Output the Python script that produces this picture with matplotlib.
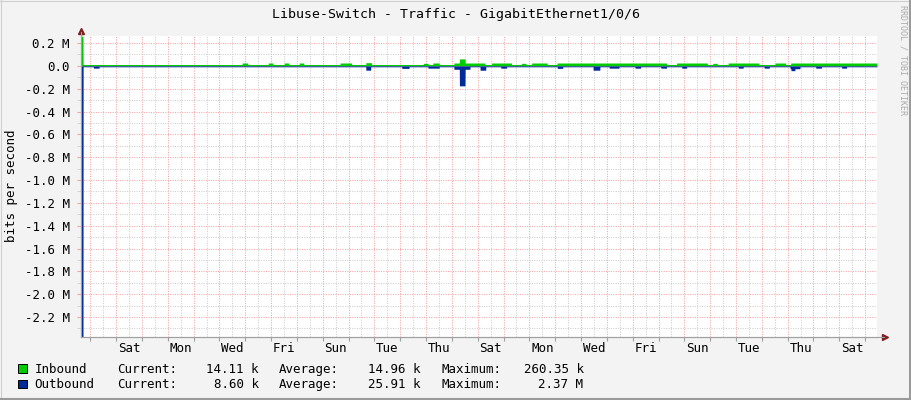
import matplotlib
matplotlib.use("Agg")
import matplotlib.pyplot as plt
from matplotlib.patches import Rectangle
from matplotlib.ticker import FixedLocator, NullFormatter
import numpy as np

plt.rcParams['font.family'] = ['DejaVu Sans Mono']

W, H = 911, 400

# time axis in days from the left edge of the graph
t_end = 30.82
first_midnight = 0.36
day_labels = ["Sat", "Mon", "Wed", "Fri", "Sun", "Tue", "Thu", "Sat",
              "Mon", "Wed", "Fri", "Sun", "Tue", "Thu", "Sat"]

# baselines (bits/s)
in_base = 12e3
out_base = 8e3

# inbound bumps: start day, end day, bits/s
in_start = [0.00, 6.24, 7.25, 7.87, 8.45, 10.03, 11.03, 13.25, 13.62, 14.44,
            14.65, 14.87, 15.06, 15.90, 17.06, 17.45, 18.43, 23.06, 24.46,
            25.06, 26.87, 27.48]
in_end = [0.08, 6.45, 7.43, 8.05, 8.63, 10.48, 11.25, 13.44, 13.87, 14.65,
          14.87, 15.06, 15.64, 16.67, 17.23, 18.05, 22.67, 24.25, 24.63,
          26.25, 27.28, 30.82]
in_val = [260e3, 25e3, 25e3, 25e3, 25e3, 25e3, 28e3, 22e3, 25e3, 25e3,
          61e3, 25e3, 25e3, 25e3, 22e3, 25e3, 25e3, 25e3, 22e3,
          25e3, 25e3, 25e3]

# outbound dips: start day, end day, bits/s
out_start = [0.00, 0.48, 11.03, 12.42, 13.43, 14.44, 14.65, 14.87, 15.45,
             16.25, 18.44, 19.83, 20.45, 21.45, 22.45, 23.26, 25.45, 26.45,
             27.45, 27.49, 28.45, 29.45]
out_end = [0.08, 0.70, 11.22, 12.70, 13.87, 14.65, 14.87, 15.06, 15.67,
           16.48, 18.65, 20.09, 20.83, 21.67, 22.67, 23.45, 25.64, 26.65,
           27.84, 27.64, 28.67, 29.64]
out_val = [2.37e6, 20e3, 38e3, 22e3, 20e3, 30e3, 175e3, 30e3, 38e3,
           20e3, 22e3, 38e3, 20e3, 20e3, 20e3, 20e3, 20e3, 20e3,
           25e3, 42e3, 20e3, 20e3]

legend_names = ["Inbound", "Outbound"]
cur_vals = ["14.11 k", "8.60 k"]
avg_vals = ["14.96 k", "25.91 k"]
max_vals = ["260.35 k", "2.37 M"]

title = "Libuse-Switch - Traffic - GigabitEthernet1/0/6"

c_in = "#00CC00"
c_out = "#002A97"
grid_major = "#F2A7A7"
grid_minor = "#CFCFCF"


def fx(x):
    return x / W


def fy(y):
    return 1 - y / H


t = np.linspace(0, t_end, 6000)
inbound = np.full_like(t, in_base)
for s, e, v in zip(in_start, in_end, in_val):
    inbound[(t >= s) & (t < e)] = v
outbound = np.full_like(t, out_base)
for s, e, v in zip(out_start, out_end, out_val):
    m = (t >= s) & (t < e)
    outbound[m] = np.maximum(outbound[m], v)

fig = plt.figure(figsize=(W / 100, H / 100), dpi=100)
fig.patch.set_facecolor("#F3F3F3")

left, right, top, bottom = 81, 877, 35.5, 337
ax = fig.add_axes([fx(left), fy(bottom), fx(right - left), (bottom - top) / H])
ax.set_facecolor("white")
ax.set_xlim(0, t_end)
ax.set_ylim(-2.375e6, 0.266e6)

# grid
for d in np.arange(first_midnight, t_end, 1.0):
    ax.axvline(d, color=grid_major, lw=0.75, dashes=(1, 1.3), zorder=1)
for d in np.arange(first_midnight + 0.5, t_end, 1.0):
    ax.axvline(d, color=grid_minor, lw=0.75, dashes=(1, 1.3), zorder=1)
yt_major = np.arange(-2.2e6, 0.25e6, 0.2e6)
yt_minor = np.arange(-2.3e6, 0.25e6, 0.2e6)
for y in yt_major:
    ax.axhline(y, color=grid_major, lw=0.75, dashes=(1, 1.3), zorder=1)
for y in yt_minor:
    ax.axhline(y, color=grid_minor, lw=0.75, dashes=(1, 1.3), zorder=1)

ax.fill_between(t, 0, inbound, color=c_in, lw=0, zorder=3)
ax.fill_between(t, 0, -outbound, color=c_out, lw=0, zorder=3)

# ticks
ax.yaxis.set_major_locator(FixedLocator(yt_major))
ylabels = []
for y in yt_major:
    v = y / 1e6
    if abs(v) < 1e-9:
        ylabels.append("0.0")
    else:
        ylabels.append("%.1f M" % v)
ax.set_yticklabels(ylabels, fontsize=9)
ax.yaxis.set_minor_locator(FixedLocator(yt_minor))
ax.tick_params(axis="y", which="major", length=3, color=grid_major, pad=5)
ax.tick_params(axis="y", which="minor", length=3, color=grid_minor)

ax.xaxis.set_major_locator(FixedLocator(np.arange(first_midnight, t_end, 1.0)))
ax.xaxis.set_major_formatter(NullFormatter())
ax.tick_params(axis="x", which="major", length=3, color="#A0A0A0")
for i, lab in enumerate(day_labels):
    xd = first_midnight + 1.5 + 2 * i
    ax.text(xd, -0.05, lab, transform=ax.get_xaxis_transform(),
            ha="center", va="baseline", fontsize=9)

for s in ["top", "right"]:
    ax.spines[s].set_visible(False)
ax.spines["bottom"].set_color("#A0A0A0")
ax.spines["left"].set_color("#A0A0A0")
ax.spines["bottom"].set_linewidth(0.8)
ax.spines["left"].set_linewidth(0.8)
ax.spines["bottom"].set_zorder(2)

# axis arrows
fig.add_artist(plt.Line2D([fx(81), fx(81)], [fy(bottom), fy(32)], color="#A0A0A0", lw=0.8, zorder=1))
fig.add_artist(plt.Line2D([fx(81), fx(884)], [fy(337), fy(337)], color="#A0A0A0", lw=0.8, zorder=1))
ax.plot([fx(81)], [fy(31)], marker="^", ms=4.5, color="#7F1F1F", transform=fig.transFigure, clip_on=False, zorder=6)
ax.plot([fx(885)], [fy(337)], marker=">", ms=4.5, color="#7F1F1F", transform=fig.transFigure, clip_on=False, zorder=6)

# title and side texts
fig.text(fx(455.5), fy(18), title, ha="center", va="baseline", fontsize=9.5)
fig.text(fx(12), fy(186), "bits per second", rotation=90, ha="center", va="center", fontsize=9)
fig.text(fx(903), fy(5), "RRDTOOL / TOBI OETIKER", rotation=-90, ha="center", va="top",
         fontsize=6, color="#AAAAAA")

# legend
rows = [372.7, 388.3]
colors = [c_in, c_out]
for i in range(2):
    yb = rows[i]
    fig.add_artist(Rectangle((fx(17.5), fy(yb)), 9 / W, 8.5 / H, facecolor=colors[i],
                             edgecolor="black", lw=0.7, transform=fig.transFigure))
    fig.text(fx(34.7), fy(yb), legend_names[i], ha="left", va="baseline", fontsize=9)
    fig.text(fx(116.7), fy(yb), "Current:", ha="left", va="baseline", fontsize=9)
    fig.text(fx(258.5), fy(yb), cur_vals[i], ha="right", va="baseline", fontsize=9)
    fig.text(fx(278.7), fy(yb), "Average:", ha="left", va="baseline", fontsize=9)
    fig.text(fx(420.5), fy(yb), avg_vals[i], ha="right", va="baseline", fontsize=9)
    fig.text(fx(441), fy(yb), "Maximum:", ha="left", va="baseline", fontsize=9)
    fig.text(fx(583.5), fy(yb), max_vals[i], ha="right", va="baseline", fontsize=9)

# frame
fig.add_artist(plt.Line2D([0, 1], [fy(0.5), fy(0.5)], color="#CFCFCF", lw=0.8))
fig.add_artist(plt.Line2D([fx(0.5), fx(0.5)], [0, 1], color="#CFCFCF", lw=0.8))
fig.add_artist(plt.Line2D([fx(909.5), fx(909.5)], [0, 1], color="#9A9A9A", lw=2.2))
fig.add_artist(plt.Line2D([0, 1], [fy(398.5), fy(398.5)], color="#9A9A9A", lw=2.2))

fig.savefig("out.png", dpi=100, facecolor=fig.get_facecolor())
